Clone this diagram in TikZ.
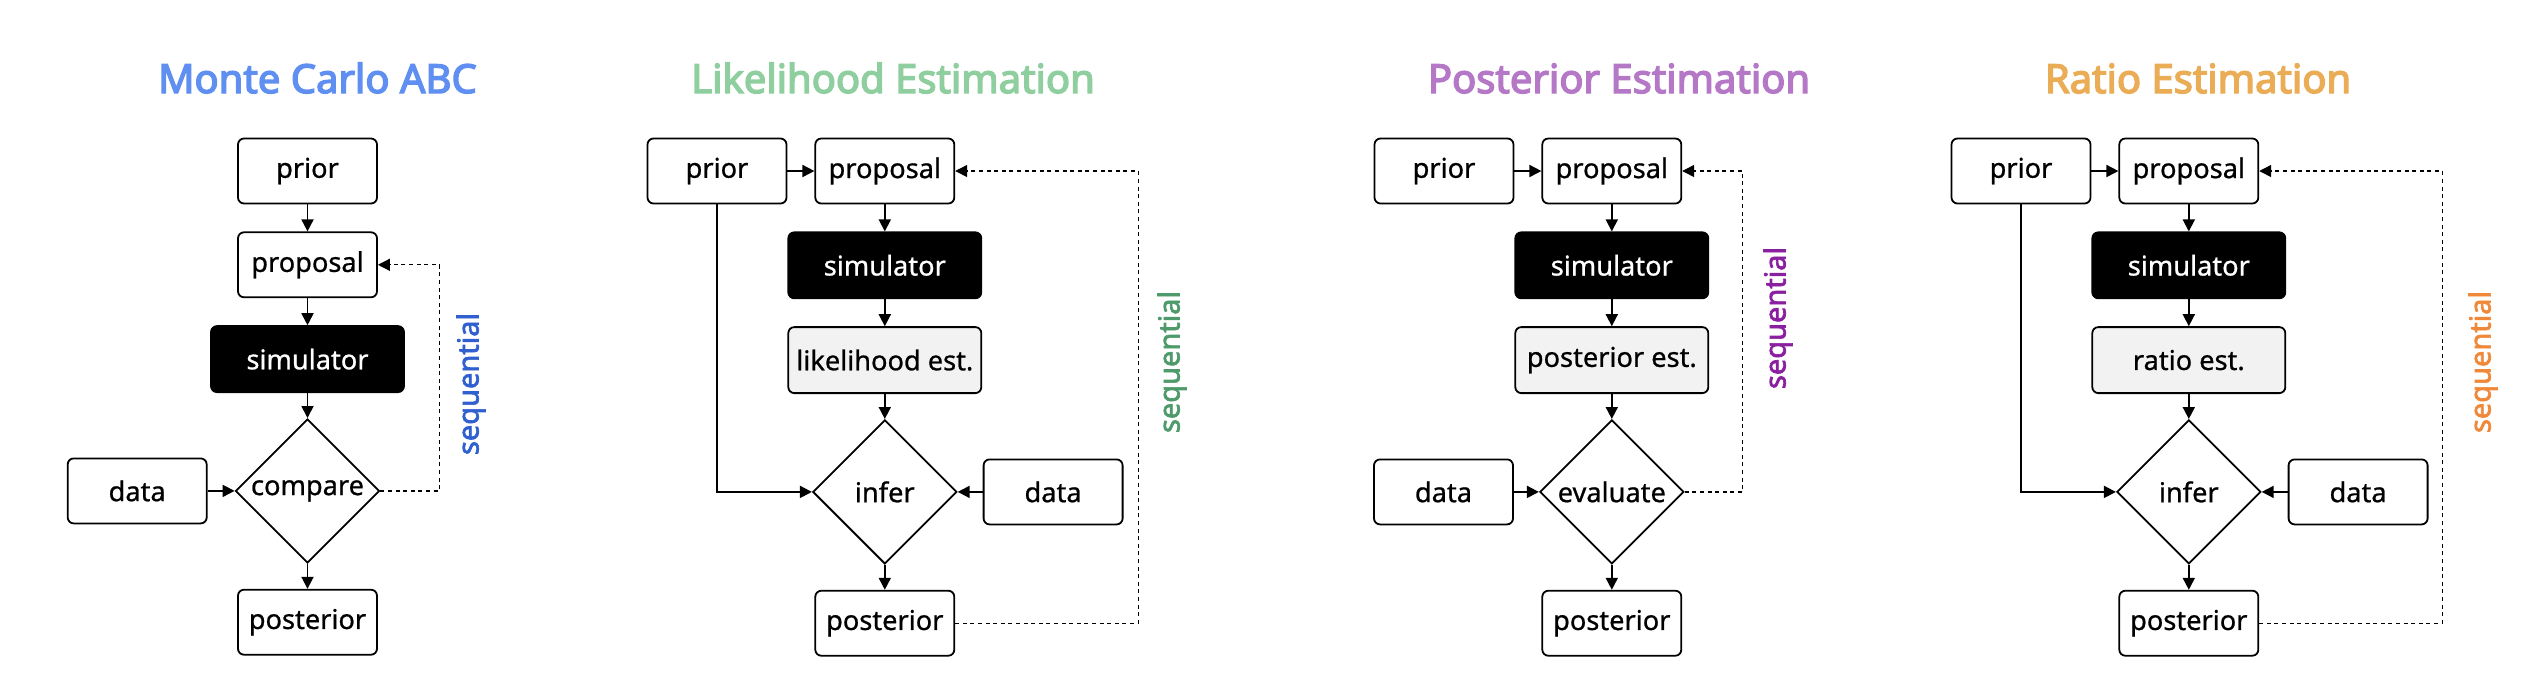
\documentclass[tikz,border=0pt]{standalone}
\usepackage{fontspec}
\setmainfont{Noto Sans}
\newfontfamily\labelfam{Noto Sans}[FakeBold=0.8]
\newfontfamily\headfam{Noto Sans}[FakeBold=3.5]
\newfontfamily\seqfam{Noto Sans}[FakeBold=2.2]
\usetikzlibrary{arrows.meta,shapes,positioning,shapes.geometric}

\definecolor{mcblue}{HTML}{5F8FF0}
\definecolor{lkgreen}{HTML}{8FCF9F}
\definecolor{pspurple}{HTML}{B478C6}
\definecolor{rtorange}{HTML}{EAAC55}
\definecolor{seqblue}{HTML}{3060D0}
\definecolor{seqgreen}{HTML}{4E9A6A}
\definecolor{seqpurple}{HTML}{8A20A0}
\definecolor{seqorange}{HTML}{F0883A}
\definecolor{estgray}{HTML}{F2F2F2}

\newcommand\boxtext{\labelfam\fontsize{13.6}{16}\selectfont}
\newcommand\headtext{\headfam\fontsize{20}{24}\selectfont}
\newcommand\seqtext{\seqfam\fontsize{14.5}{17}\selectfont}

\begin{document}
\begin{tikzpicture} [
		x=0.5pt, y=-0.5pt,
		node distance=13.5pt,
		box/.style      = { rectangle, draw=black, line width=0.9pt, fill=white,
			rounded corners=3pt, minimum width=69.5pt, minimum height=32.5pt,
			inner sep=0pt, font=\boxtext },
		wide/.style     = { box, minimum width=96.5pt, minimum height=33pt },
		simbox/.style   = { wide, fill=black, text=white },
		estbox/.style   = { wide, fill=estgray },
		decision/.style = { diamond, draw=black, line width=0.9pt, fill=white,
			minimum width=72pt, minimum height=72pt, aspect=1, inner sep=0pt,
			font=\boxtext },
		heading/.style  = { anchor=base, font=\headtext },
		seq/.style      = { rotate=90, font=\seqtext },
		line/.style     = { draw, line width=0.9pt, -{Triangle[length=6pt,width=6pt]} },
		feedback/.style = { draw, line width=0.65pt, dash pattern=on 2pt off 1.8pt,
			-{Triangle[length=6pt,width=6pt]} },
	]
	\useasboundingbox (0,0) rectangle (2538,698);
	% Monte Carlo ABC
	\begin{scope}
		\node [heading, text=mcblue] (titleA) at (317.5,93) {Monte Carlo ABC};
		\node [box] (priorA) at (307.5,171) {prior};
		\node [box, below=of priorA] (proposalA) {proposal};
		\node [simbox, below=of proposalA] (simA) {simulator};
		\node [decision, below=12.5pt of simA] (compareA) {compare};
		\node [box, left=of compareA] (dataA) {data};
		\node [box, below=12.5pt of compareA] (posteriorA) {posterior};
		\node [seq, text=seqblue] (seqA) at (471,384) {sequential};
	\end{scope}
	\begin{scope} [every path/.style=line]
		\path (priorA) -- (proposalA);
		\path (proposalA) -- (simA);
		\path (simA) -- (compareA);
		\path (dataA) -- (compareA);
		\path (compareA) -- (posteriorA);
		\path [feedback] (compareA.east) --++ (59,0) |- (proposalA.east);
	\end{scope}
	% Likelihood Estimation
	\begin{scope}
		\node [heading, text=lkgreen] (titleB) at (893,93) {Likelihood Estimation};
		\node [box] (priorB) at (717,171) {prior};
		\node [box, right=of priorB] (proposalB) {proposal};
		\node [simbox, below=of proposalB] (simB) {simulator};
		\node [estbox, below=of simB] (estB) {likelihood est.};
		\node [decision, below=12.5pt of estB] (inferB) {infer};
		\node [box, right=12.5pt of inferB] (dataB) {data};
		\node [box, below=12.5pt of inferB] (posteriorB) {posterior};
		\node [seq, text=seqgreen] (seqB) at (1172,362) {sequential};
	\end{scope}
	\begin{scope} [every path/.style=line]
		\path (priorB) -- (proposalB);
		\path (proposalB) -- (simB);
		\path (simB) -- (estB);
		\path (estB) -- (inferB);
		\path (priorB.south) |- (inferB.west);
		\path (dataB) -- (inferB);
		\path (inferB) -- (posteriorB);
		\path [feedback] (posteriorB.east) --++ (183,0) |- (proposalB.east);
	\end{scope}
	% Posterior Estimation
	\begin{scope}
		\node [heading, text=pspurple] (titleC) at (1619,93) {Posterior Estimation};
		\node [box] (priorC) at (1444,171) {prior};
		\node [box, right=of priorC] (proposalC) {proposal};
		\node [simbox, below=of proposalC] (simC) {simulator};
		\node [estbox, below=of simC] (estC) {posterior est.};
		\node [decision, below=12.5pt of estC] (evalC) {evaluate};
		\node [box, left=12.5pt of evalC] (dataC) {data};
		\node [box, below=12.5pt of evalC] (posteriorC) {posterior};
		\node [seq, text=seqpurple] (seqC) at (1778,318) {sequential};
	\end{scope}
	\begin{scope} [every path/.style=line]
		\path (priorC) -- (proposalC);
		\path (proposalC) -- (simC);
		\path (simC) -- (estC);
		\path (estC) -- (evalC);
		\path (dataC) -- (evalC);
		\path (evalC) -- (posteriorC);
		\path [feedback] (evalC.east) --++ (58,0) |- (proposalC.east);
	\end{scope}
	% Ratio Estimation
	\begin{scope}
		\node [heading, text=rtorange] (titleD) at (2198,93) {Ratio Estimation};
		\node [box] (priorD) at (2021,171) {prior};
		\node [box, right=of priorD] (proposalD) {proposal};
		\node [simbox, below=of proposalD] (simD) {simulator};
		\node [estbox, below=of simD] (estD) {ratio est.};
		\node [decision, below=12.5pt of estD] (inferD) {infer};
		\node [box, right=13pt of inferD] (dataD) {data};
		\node [box, below=12.5pt of inferD] (posteriorD) {posterior};
		\node [seq, text=seqorange] (seqD) at (2483,362) {sequential};
	\end{scope}
	\begin{scope} [every path/.style=line]
		\path (priorD) -- (proposalD);
		\path (proposalD) -- (simD);
		\path (simD) -- (estD);
		\path (estD) -- (inferD);
		\path (priorD.south) |- (inferD.west);
		\path (dataD) -- (inferD);
		\path (inferD) -- (posteriorD);
		\path [feedback] (posteriorD.east) --++ (183,0) |- (proposalD.east);
	\end{scope}
\end{tikzpicture}
\end{document}
